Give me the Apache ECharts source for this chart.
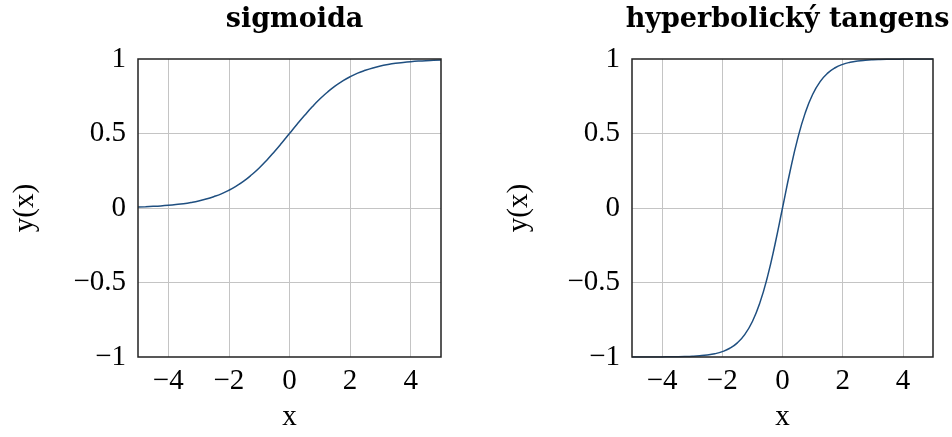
<!DOCTYPE html>
<html><head><meta charset="utf-8">
<script src="https://cdn.jsdelivr.net/npm/echarts@6/dist/echarts.min.js"></script>
<style>html,body{margin:0;padding:0;background:#fff}#c{width:952px;height:437px}</style>
</head><body><div id="c"></div>
<script>
const xValues = [-5,-4.75,-4.5,-4.25,-4,-3.75,-3.5,-3.25,-3,-2.75,-2.5,-2.25,-2,-1.75,-1.5,-1.25,-1,-0.75,-0.5,-0.25,0,0.25,0.5,0.75,1,1.25,1.5,1.75,2,2.25,2.5,2.75,3,3.25,3.5,3.75,4,4.25,4.5,4.75,5];
const sigmoidValues = [0.0067,0.0086,0.011,0.014,0.018,0.023,0.029,0.037,0.047,0.060,0.076,0.095,0.119,0.148,0.182,0.223,0.269,0.321,0.378,0.438,0.5,0.562,0.622,0.679,0.731,0.777,0.818,0.852,0.881,0.905,0.924,0.940,0.953,0.963,0.971,0.977,0.982,0.986,0.989,0.991,0.993];
const tanhValues = [-0.9999,-0.9999,-0.9998,-0.9996,-0.9993,-0.9989,-0.9982,-0.9970,-0.9951,-0.9918,-0.9866,-0.9780,-0.9640,-0.9414,-0.9051,-0.8483,-0.7616,-0.6351,-0.4621,-0.2449,0,0.2449,0.4621,0.6351,0.7616,0.8483,0.9051,0.9414,0.9640,0.9780,0.9866,0.9918,0.9951,0.9970,0.9982,0.9989,0.9993,0.9996,0.9998,0.9999,0.9999];
const titles = ['sigmoida','hyperbolický tangens'];
const xTicks = [-4,-2,0,2,4];
const yTicks = [-1,-0.5,0,0.5,1];
const yInnerGrid = [-0.5,0,0.5];

const FONT = 'Liberation Serif';
const fmt = v => (v < 0 ? '\u2212' + String(-v) : String(v));
const grids = [
  {left:138, top:59, width:303, height:302},
  {left:632, top:59, width:301, height:302}
];
const chart = echarts.init(document.getElementById('c'), null, {renderer:'canvas'});
const series = [sigmoidValues, tanhValues];
chart.setOption({
  animation:false,
  backgroundColor:'#fff',
  title: titles.map((t,i)=>({
    text:t, left: grids[i].left + grids[i].width/2, top:1, textAlign:'center',
    textStyle:{fontFamily:'DejaVu Serif', fontWeight:'bold', fontSize:27, color:'#000'}
  })),
  grid: grids.map(g=>Object.assign({show:true, borderColor:'#222', borderWidth:1.5, backgroundColor:'transparent', containLabel:false, z:10}, g)),
  xAxis: grids.map((g,i)=>({
    type:'value', gridIndex:i, min:-5, max:5,
    name:'x', nameLocation:'middle', nameGap:46,
    nameTextStyle:{fontFamily:FONT, fontSize:29, color:'#000'},
    axisLine:{show:false}, axisTick:{show:false, customValues:xTicks},
    splitLine:{show:true, lineStyle:{color:'#c4c4c4', width:1}},
    axisLabel:{fontFamily:FONT, fontSize:29, color:'#000', margin:10, customValues:xTicks,
      formatter: v => fmt(v)}
  })),
  yAxis: grids.map((g,i)=>({
    type:'value', gridIndex:i, min:-1, max:1,
    name:'y(x)', nameLocation:'middle', nameGap:98, nameRotate:90,
    nameTextStyle:{fontFamily:FONT, fontSize:29, color:'#000'},
    axisLine:{show:false}, axisTick:{show:false, customValues:yInnerGrid},
    splitLine:{show:true, lineStyle:{color:'#c4c4c4', width:1}},
    axisLabel:{fontFamily:FONT, fontSize:29, color:'#000', margin:12, customValues:yTicks,
      formatter: v => fmt(v)}
  })),
  series: series.map((vals,i)=>({
    type:'line', xAxisIndex:i, yAxisIndex:i, showSymbol:false, smooth:true,
    data: xValues.map((x,j)=>[x, vals[j]]),
    lineStyle:{color:'#1f4f80', width:1.5}, z:5
  }))
});
</script></body></html>
